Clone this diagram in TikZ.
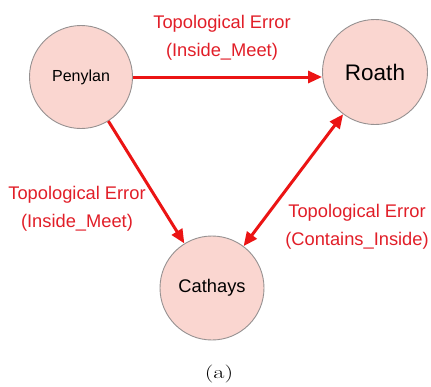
\documentclass[tikz,border=0pt]{standalone}
\usepackage{fontspec}
\setmainfont{Liberation Sans}
\usetikzlibrary{arrows.meta}
\definecolor{nodefill}{RGB}{250,214,208}
\definecolor{nodeborder}{RGB}{150,145,145}
\definecolor{arrowred}{RGB}{235,20,20}
\definecolor{labelred}{RGB}{225,30,40}
\tikzset{
  place/.style={circle, draw=nodeborder, fill=nodefill, line width=0.9pt, minimum size=103pt, inner sep=0pt, text=black},
  relation/.style={draw=arrowred, line width=3pt, -{Triangle[length=14pt,width=12pt]}},
  relboth/.style={draw=arrowred, line width=3pt, {Triangle[length=14pt,width=12pt]}-{Triangle[length=14pt,width=12pt]}},
  rellabel/.style={text=labelred, font=\fontsize{18.3}{28}\selectfont, align=center, inner sep=0pt}
}
\begin{document}
\begin{tikzpicture}[x=1pt,y=-1pt]
\useasboundingbox (0,0) rectangle (431,386);
\node[place, font=\fontsize{16}{18}\selectfont] (Penylan) at (81,77) {Penylan};
\node[place, minimum size=105pt, font=\fontsize{22.5}{26}\selectfont] (Roath) at (375,72) {Roath};
\node[place, minimum size=104pt, font=\fontsize{18.3}{22}\selectfont] (Cathays) at (212,288) {Cathays};
\draw[relation] (Penylan.east) -- (Penylan.east -| Roath.west);
\draw[relation] (Penylan) -- (Cathays);
\draw[relboth] (Cathays) -- (Roath);
\node[rellabel] (l1) at (222,38) {Topological Error\\(Inside\_Meet)};
\node[rellabel] (l2) at (77,209) {Topological Error\\(Inside\_Meet)};
\node[rellabel] (l3) at (357,227) {Topological Error\\(Contains\_Inside)};
\node[font=\fontencoding{TU}\fontfamily{lmr}\fontsize{18}{22}\selectfont, inner sep=0pt] (cap) at (219,374) {\scalebox{1.35}[1]{(a)}};
\end{tikzpicture}
\end{document}
